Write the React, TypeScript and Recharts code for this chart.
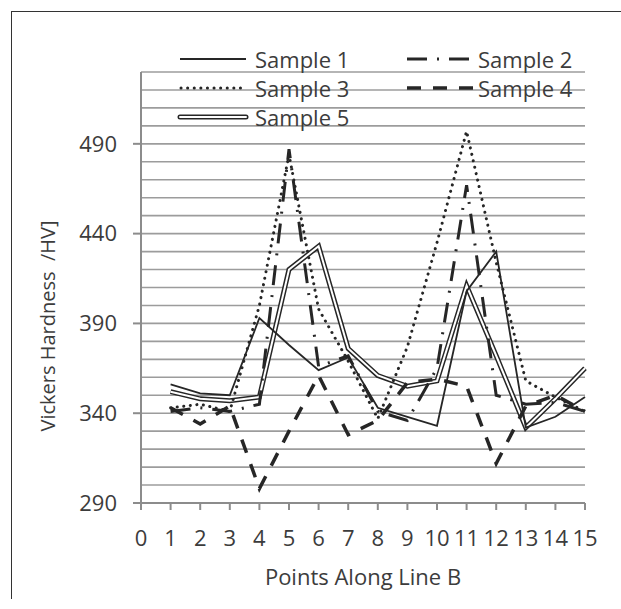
import React from "react";
import { LineChart, Line, XAxis, YAxis, ReferenceLine, Legend } from "recharts";

const points = [1, 2, 3, 4, 5, 6, 7, 8, 9, 10, 11, 12, 13, 14, 15];
const sample1 = [356, 351, 350, 393, 378, 364, 371, 343, 338, 333, 408, 430, 332, 338, 349];
const sample2 = [341, 343, 341, 345, 487, 366, 372, 341, 336, 365, 467, 350, 345, 346, 341];
const sample3 = [343, 345, 341, 400, 484, 398, 369, 337, 377, 435, 497, 424, 358, 349, 341];
const sample4 = [343, 334, 344, 298, 330, 361, 328, 336, 357, 359, 355, 312, 344, 350, 341];
const sample5 = [352, 348, 347, 349, 420, 433, 376, 361, 355, 358, 411, 372, 332, 348, 365];

const xTicks = [0, 1, 2, 3, 4, 5, 6, 7, 8, 9, 10, 11, 12, 13, 14, 15];
const yTicks = [290, 340, 390, 440, 490];
const gridValues = [300, 310, 320, 330, 340, 350, 360, 370, 380, 390, 400, 410, 420, 430, 440, 450, 460, 470, 480, 490, 500, 510, 520, 530];

const data = points.map((x, i) => ({
  x,
  s1: sample1[i],
  s2: sample2[i],
  s3: sample3[i],
  s4: sample4[i],
  s5: sample5[i],
}));

const FONT = "'Open Sans', sans-serif";
const INK = "#262626";
const TEXT = "#3c3c3c";
const AXIS = "#8c8c8c";

const dashDot = "20 10 2 10";
const dotted = "0.1 6.5";
const dashed = "14 12";

const LegendBox = () => {
  const items = [
    { name: "Sample 1", x: 180, w: 66, tx: 255, y: 59, kind: "solid" },
    { name: "Sample 2", x: 407, w: 68, tx: 478, y: 59, kind: "dashdot" },
    { name: "Sample 3", x: 180, w: 66, tx: 255, y: 88, kind: "dotted" },
    { name: "Sample 4", x: 407, w: 68, tx: 478, y: 88, kind: "dashed" },
    { name: "Sample 5", x: 180, w: 66, tx: 255, y: 117, kind: "double" },
  ];
  return (
    <svg width={621} height={140} style={{ position: "absolute", left: 0, top: 0 }}>
      {items.map((it) => (
        <g key={it.name}>
          {it.kind === "solid" && (
            <line x1={it.x} x2={it.x + it.w} y1={it.y} y2={it.y} stroke={INK} strokeWidth={1.8} />
          )}
          {it.kind === "dashdot" && (
            <line x1={it.x} x2={it.x + it.w} y1={it.y} y2={it.y} stroke={INK} strokeWidth={3} strokeDasharray={dashDot} />
          )}
          {it.kind === "dotted" && (
            <line x1={it.x + 1} x2={it.x + it.w} y1={it.y} y2={it.y} stroke={INK} strokeWidth={3} strokeDasharray={dotted} strokeLinecap="round" />
          )}
          {it.kind === "dashed" && (
            <line x1={it.x} x2={it.x + it.w} y1={it.y} y2={it.y} stroke={INK} strokeWidth={3.5} strokeDasharray={dashed} />
          )}
          {it.kind === "double" && (
            <g>
              <line x1={it.x} x2={it.x + it.w} y1={it.y} y2={it.y} stroke={INK} strokeWidth={5} strokeLinecap="round" />
              <line x1={it.x} x2={it.x + it.w} y1={it.y} y2={it.y} stroke="#fff" strokeWidth={2} strokeLinecap="round" />
            </g>
          )}
          <text x={it.tx} y={it.y} dominantBaseline="central" fontFamily={FONT} fontSize={22} fill={TEXT}>
            {it.name}
          </text>
        </g>
      ))}
    </svg>
  );
};

const YTitle = () => (
  <text
    x={47}
    y={326}
    transform="rotate(-90 47 326)"
    textAnchor="middle"
    dominantBaseline="central"
    fontFamily={FONT}
    fontSize={20}
    fill={TEXT}
    style={{ whiteSpace: "pre" }}
  >
    {"Vickers Hardness  /HV]"}
  </text>
);

const XTitle = () => (
  <text x={363} y={585} textAnchor="middle" fontFamily={FONT} fontSize={22} fill={TEXT}>
    Points Along Line B
  </text>
);

export default function App() {
  return (
    <div style={{ position: "absolute", left: 0, top: 0, width: 621, height: 609, background: "#fff" }}>
      <div
        style={{
          position: "absolute",
          left: 11,
          top: 11,
          width: 620,
          height: 587,
          borderLeft: "1.5px solid #333",
          borderTop: "1.5px solid #333",
        }}
      />
      <LineChart width={621} height={609} data={data} margin={{ top: 72, right: 36, bottom: 76, left: 81 }}>
        {gridValues.map((v) => (
          <ReferenceLine key={v} y={v} stroke="#9c9c9c" strokeWidth={1.6} ifOverflow="extendDomain" />
        ))}
        <XAxis
          dataKey="x"
          type="number"
          domain={[0, 15]}
          ticks={xTicks}
          interval={0}
          stroke={AXIS}
          strokeWidth={2}
          tickSize={7}
          tickMargin={20}
          tick={{ fontFamily: FONT, fontSize: 22, fill: TEXT }}
          height={30}
          label={<XTitle />}
        />
        <YAxis
          type="number"
          domain={[290, 530]}
          ticks={yTicks}
          interval={0}
          stroke={AXIS}
          strokeWidth={2}
          tickSize={8}
          tickMargin={16}
          tick={{ fontFamily: FONT, fontSize: 22, fill: TEXT }}
          width={60}
          label={<YTitle />}
        />
        <Line dataKey="s5" type="linear" stroke={INK} strokeWidth={5} dot={false} isAnimationActive={false} strokeLinejoin="miter" />
        <Line dataKey="s5" type="linear" stroke="#fff" strokeWidth={2} dot={false} isAnimationActive={false} strokeLinejoin="miter" />
        <Line dataKey="s4" type="linear" stroke={INK} strokeWidth={3.5} strokeDasharray={dashed} dot={false} isAnimationActive={false} />
        <Line dataKey="s3" type="linear" stroke={INK} strokeWidth={3} strokeDasharray={dotted} strokeLinecap="round" dot={false} isAnimationActive={false} />
        <Line dataKey="s2" type="linear" stroke={INK} strokeWidth={3} strokeDasharray={dashDot} dot={false} isAnimationActive={false} />
        <Line dataKey="s1" type="linear" stroke={INK} strokeWidth={1.8} dot={false} isAnimationActive={false} />
        <Legend layout="vertical" align="center" verticalAlign="middle" content={<LegendBox />} wrapperStyle={{ position: "absolute", left: 0, top: 0, width: 621, height: 140 }} />
      </LineChart>
    </div>
  );
}
